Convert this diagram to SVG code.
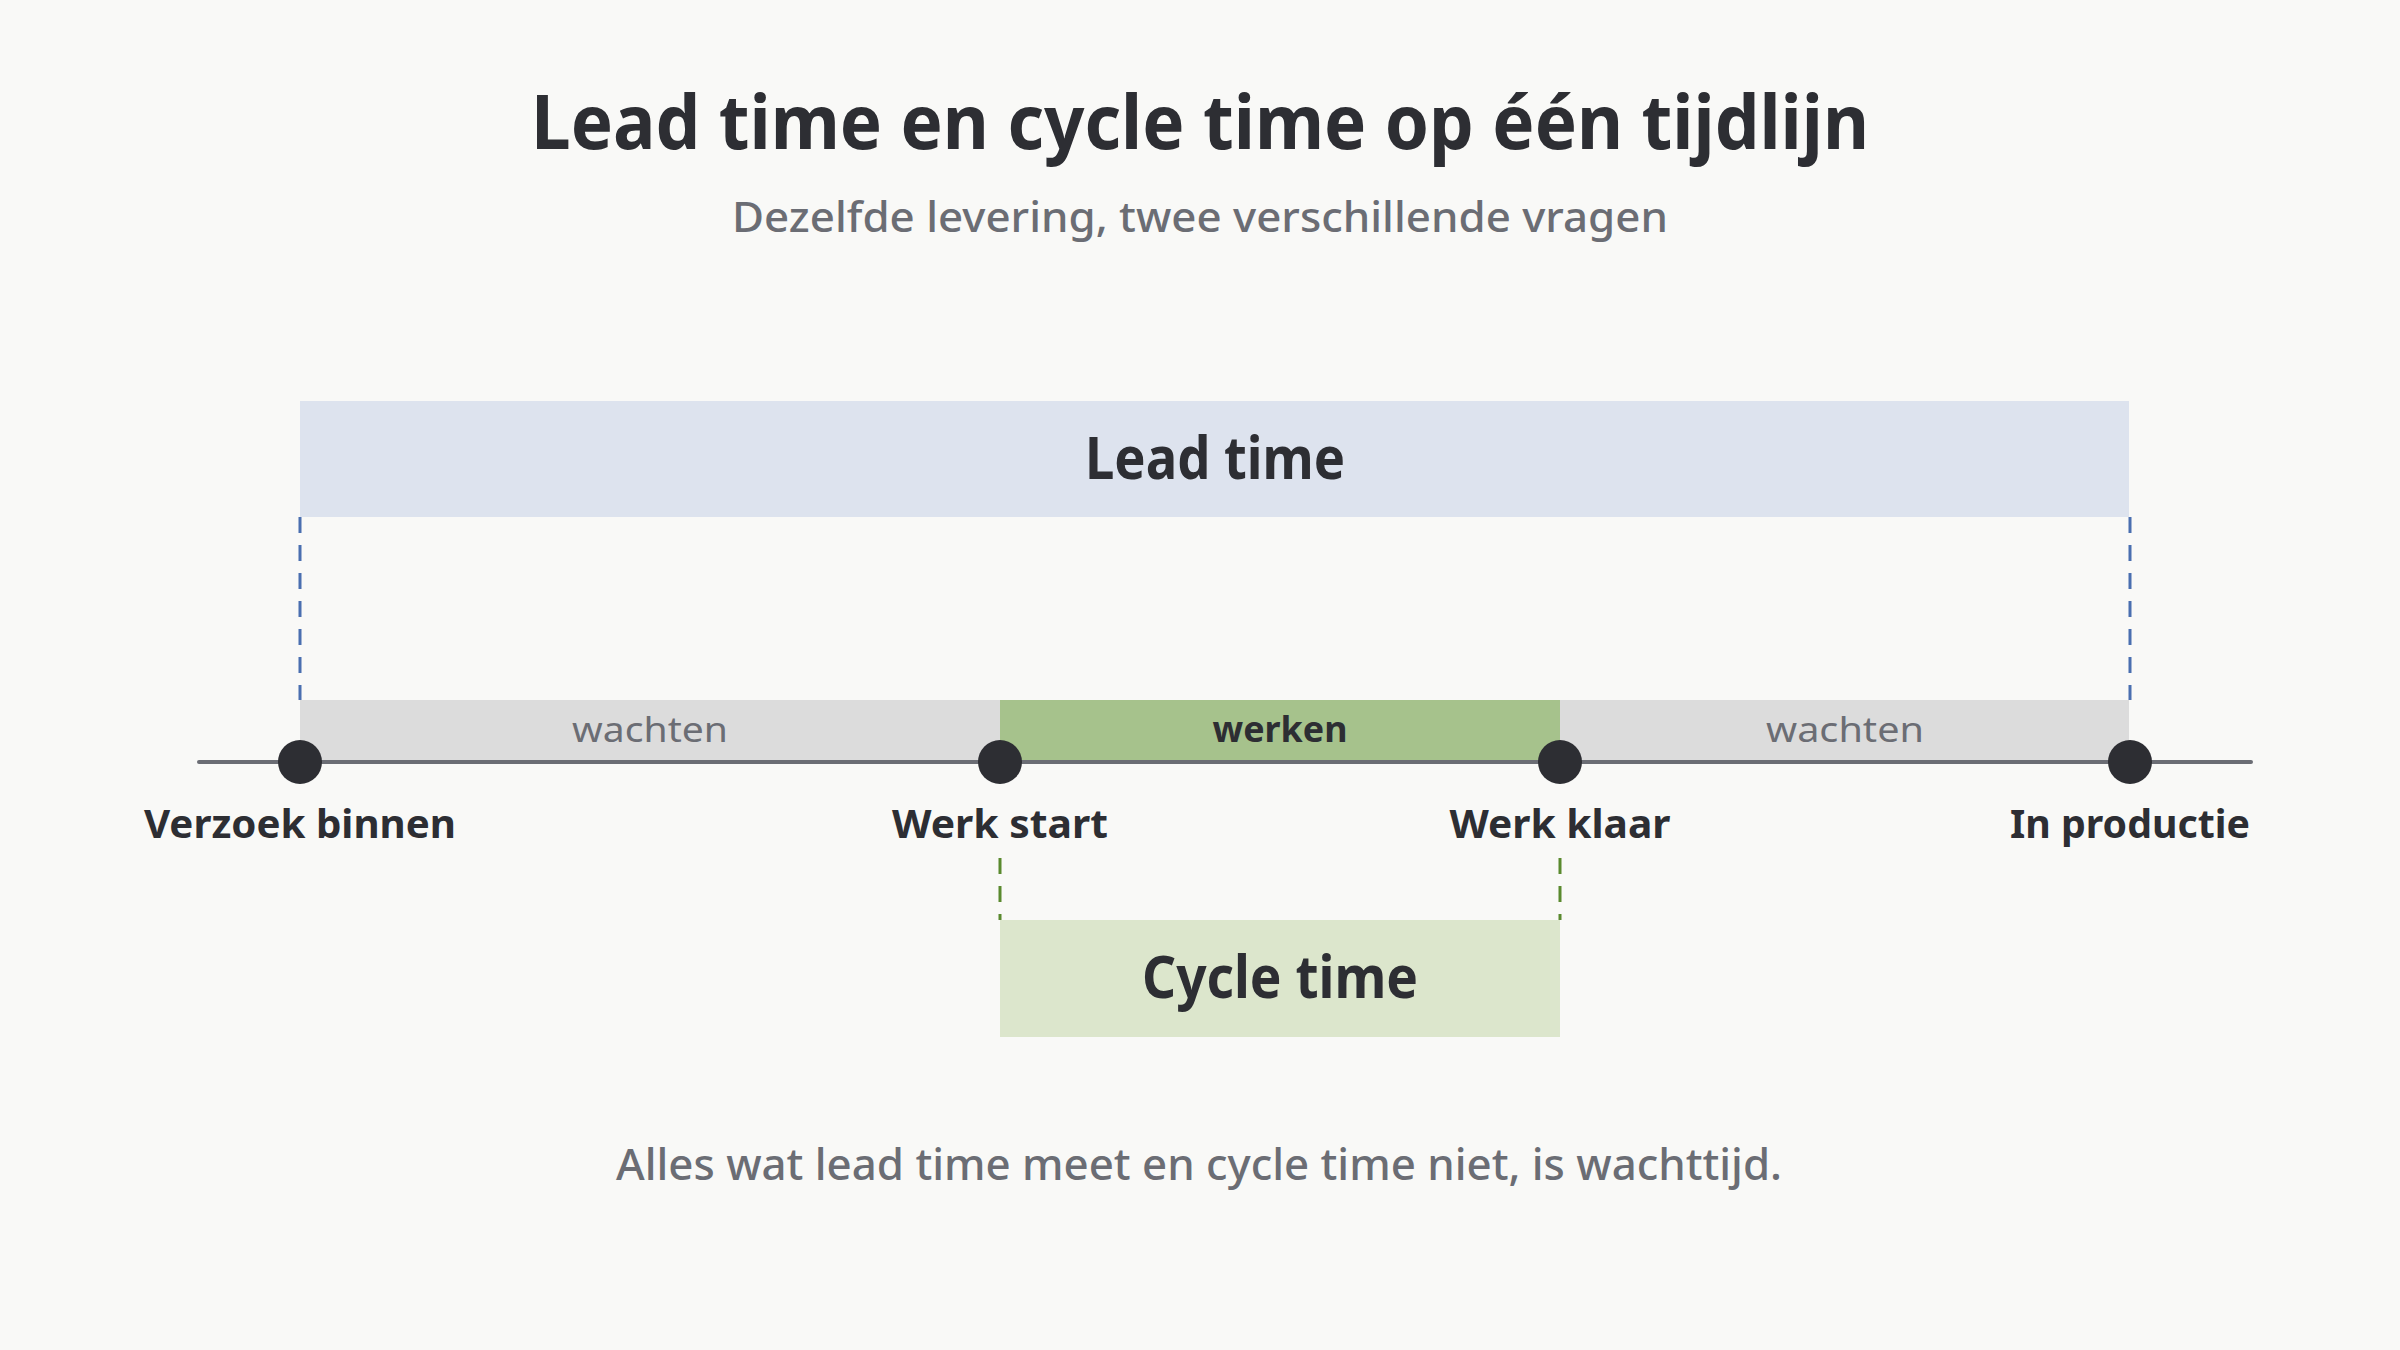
<svg xmlns="http://www.w3.org/2000/svg" width="2400" height="1350" viewBox="0 0 2400 1350">
<style>
  text { font-family: "Noto Sans", "Open Sans", sans-serif; text-anchor: middle; }
  .title { font-size: 76px; font-weight: 700; fill: #2d2e33; }
  .sub { font-size: 42px; font-weight: 500; fill: #6b6d74; }
  .box { font-size: 60px; font-weight: 700; fill: #2d2e33; }
  .node { font-size: 40px; font-weight: 700; fill: #2d2e33; }
  .seg { font-size: 35px; font-weight: 400; fill: #6b6d74; }
  .segb { font-size: 35px; font-weight: 700; fill: #2d2e33; }
  .foot { font-size: 44px; font-weight: 500; fill: #6b6d74; }
  .dot { fill: #2d2e33; }
  .bdash { stroke: #4a6fb0; stroke-width: 3; stroke-dasharray: 16 12; fill: none; }
  .gdash { stroke: #5a8a2e; stroke-width: 3; stroke-dasharray: 16 12; fill: none; }
</style>
<rect width="2400" height="1350" fill="#f9f9f7"/>
<g id="header">
  <text class="title" x="1200" y="149" textLength="1338" lengthAdjust="spacingAndGlyphs">Lead time en cycle time op één tijdlijn</text>
  <text class="sub" x="1200" y="232" textLength="936" lengthAdjust="spacingAndGlyphs">Dezelfde levering, twee verschillende vragen</text>
</g>
<g id="lead-time">
  <rect x="300" y="401" width="1829" height="116" fill="#dde3ee"/>
  <text class="box" x="1215" y="479" textLength="260" lengthAdjust="spacingAndGlyphs">Lead time</text>
</g>
<g id="segments">
  <g id="seg-wachten-1">
    <rect x="300" y="700" width="700" height="61" fill="#dcdcdc"/>
    <text class="seg" x="650" y="742" textLength="156" lengthAdjust="spacingAndGlyphs">wachten</text>
  </g>
  <g id="seg-werken">
    <rect x="1000" y="700" width="560" height="61" fill="#a6c28c"/>
    <text class="segb" x="1280" y="742" textLength="135" lengthAdjust="spacingAndGlyphs">werken</text>
  </g>
  <g id="seg-wachten-2">
    <rect x="1560" y="700" width="569" height="61" fill="#dcdcdc"/>
    <text class="seg" x="1845" y="742" textLength="158" lengthAdjust="spacingAndGlyphs">wachten</text>
  </g>
</g>
<g id="connectors">
  <line x1="199" y1="762" x2="2251" y2="762" stroke="#6b6d74" stroke-width="4" stroke-linecap="round"/>
  <line class="bdash" x1="300" y1="517" x2="300" y2="700"/>
  <line class="bdash" x1="2130" y1="517" x2="2130" y2="700"/>
  <line class="gdash" x1="1000" y1="858" x2="1000" y2="920"/>
  <line class="gdash" x1="1560" y1="858" x2="1560" y2="920"/>
</g>
<g id="node-verzoek-binnen">
  <circle class="dot" cx="300" cy="762" r="22"/>
  <text class="node" x="300" y="838" textLength="312" lengthAdjust="spacingAndGlyphs">Verzoek binnen</text>
</g>
<g id="node-werk-start">
  <circle class="dot" cx="1000" cy="762" r="22"/>
  <text class="node" x="1000" y="838" textLength="216" lengthAdjust="spacingAndGlyphs">Werk start</text>
</g>
<g id="node-werk-klaar">
  <circle class="dot" cx="1560" cy="762" r="22"/>
  <text class="node" x="1560" y="838" textLength="221" lengthAdjust="spacingAndGlyphs">Werk klaar</text>
</g>
<g id="node-in-productie">
  <circle class="dot" cx="2130" cy="762" r="22"/>
  <text class="node" x="2130" y="838" textLength="240" lengthAdjust="spacingAndGlyphs">In productie</text>
</g>
<g id="cycle-time">
  <rect x="1000" y="920" width="560" height="117" fill="#dce6cc"/>
  <text class="box" x="1280" y="998" textLength="276" lengthAdjust="spacingAndGlyphs">Cycle time</text>
</g>
<g id="footer">
  <text class="foot" x="1199" y="1180" textLength="1166" lengthAdjust="spacingAndGlyphs">Alles wat lead time meet en cycle time niet, is wachttijd.</text>
</g>
</svg>
